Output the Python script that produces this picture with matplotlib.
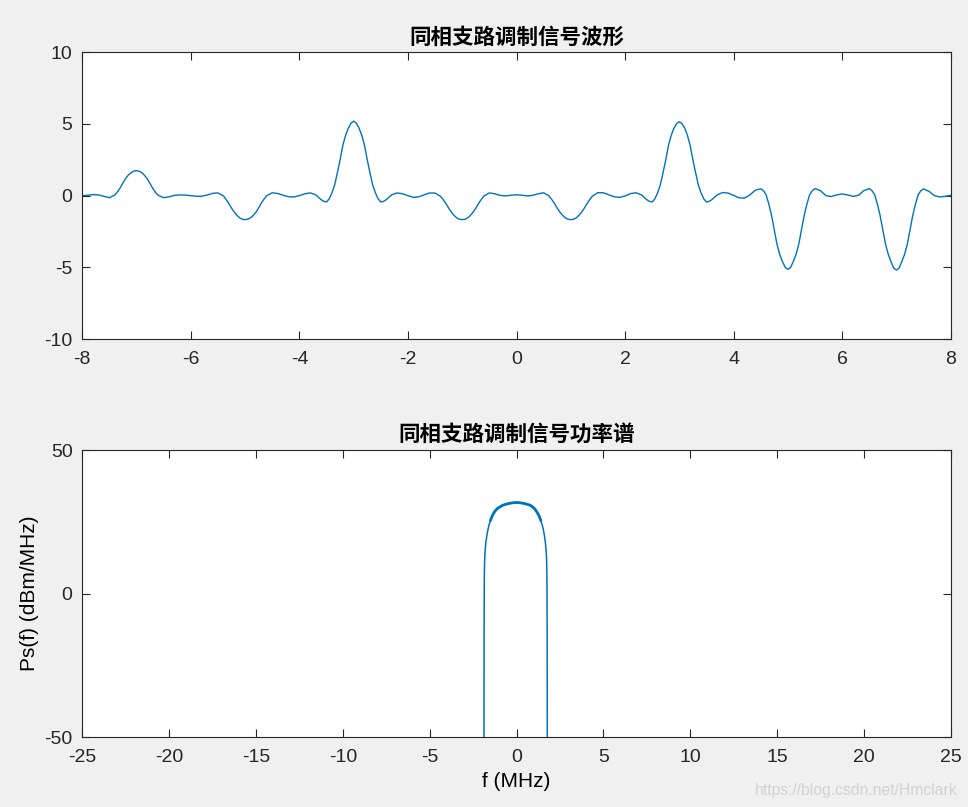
import numpy as np
import matplotlib
matplotlib.use("Agg")
import matplotlib.pyplot as plt

plt.rcParams['font.family'] = ['Liberation Sans', 'Noto Sans CJK SC', 'DejaVu Sans']
plt.rcParams['axes.unicode_minus'] = False

# ---------------- data ----------------
title_top = "同相支路调制信号波形"
title_bot = "同相支路调制信号功率谱"
xlabel_bot = "f (MHz)"
ylabel_bot = "Ps(f) (dBm/MHz)"

# In-phase modulated waveform, read every 0.1 from -8 to 8
t_start, t_end = -8.0, 8.0
i_wave = [
    0.00, 0.03, 0.07, 0.05, -0.05, -0.14, 0.05, 0.55, 1.2, 1.6,
    1.74, 1.6, 1.15, 0.5, 0.02, -0.14, -0.08, 0.02, 0.05, 0.04,
    0.0, -0.04, -0.04, 0.04, 0.16, 0.19, -0.02, -0.55, -1.15, -1.55,
    -1.67, -1.55, -1.15, -0.5, 0.0, 0.2, 0.15, 0.03, -0.08, -0.09,
    0.0, 0.13, 0.19, 0.06, -0.28, -0.44, 0.2, 1.6, 3.5, 4.7,
    5.2, 4.7, 3.5, 1.6, 0.2, -0.44, -0.28, 0.06, 0.19, 0.13,
    0.0, -0.12, -0.08, 0.06, 0.19, 0.18, -0.05, -0.55, -1.15, -1.55,
    -1.67, -1.55, -1.15, -0.55, -0.02, 0.19, 0.13, 0.02, -0.02, 0.03,
    0.06, 0.03, -0.02, 0.02, 0.13, 0.2, -0.02, -0.55, -1.15, -1.55,
    -1.67, -1.55, -1.15, -0.55, -0.03, 0.21, 0.2, 0.06, -0.08, -0.12,
    -0.02, 0.14, 0.2, 0.06, -0.28, -0.44, 0.2, 1.6, 3.5, 4.7,
    5.16, 4.7, 3.5, 1.6, 0.2, -0.44, -0.28, 0.06, 0.22, 0.18,
    0.02, -0.15, -0.17, 0.05, 0.38, 0.48, 0.05, -1.4, -3.4, -4.6,
    -5.14, -4.6, -3.4, -1.4, 0.05, 0.49, 0.35, 0.0, -0.06, 0.05,
    0.12, 0.05, -0.05, 0.02, 0.35, 0.49, 0.05, -1.4, -3.4, -4.6,
    -5.19, -4.6, -3.4, -1.4, 0.05, 0.47, 0.3, 0.0, -0.09, -0.05,
    0.03,
]

# extra readings around the pulses (half steps)
extra_t = [
    -7.35, -7.25, -7.15, -7.05, -6.95, -6.85, -6.75, -6.65,
    -5.35, -5.25, -5.15, -5.05, -4.95, -4.85, -4.75, -4.65,
    -3.55, -3.45, -3.35, -3.25, -3.15, -3.05, -2.95, -2.85, -2.75, -2.65, -2.55, -2.45,
    -1.35, -1.25, -1.15, -1.05, -0.95, -0.85, -0.75, -0.65,
    0.65, 0.75, 0.85, 0.95, 1.05, 1.15, 1.25, 1.35,
    2.45, 2.55, 2.65, 2.75, 2.85, 2.95, 3.05, 3.15, 3.25, 3.35, 3.45, 3.55,
    4.55, 4.65, 4.75, 4.85, 4.95, 5.05, 5.15, 5.25, 5.35, 5.45,
    6.55, 6.65, 6.75, 6.85, 6.95, 7.05, 7.15, 7.25, 7.35, 7.45,
]
extra_v = [
    0.28, 0.9, 1.45, 1.72, 1.7, 1.4, 0.82, 0.22,
    -0.27, -0.87, -1.38, -1.65, -1.64, -1.38, -0.85, -0.23,
    -0.4, -0.22, 0.75, 2.5, 4.2, 5.05, 5.05, 4.2, 2.5, 0.75, -0.22, -0.4,
    -0.27, -0.87, -1.38, -1.65, -1.65, -1.38, -0.87, -0.27,
    -0.27, -0.87, -1.38, -1.65, -1.65, -1.38, -0.87, -0.27,
    -0.4, -0.22, 0.75, 2.5, 4.2, 5.02, 5.02, 4.2, 2.5, 0.75, -0.22, -0.4,
    0.35, -0.6, -2.4, -4.1, -5.0, -5.0, -4.1, -2.4, -0.6, 0.35,
    0.35, -0.6, -2.4, -4.1, -5.05, -5.05, -4.1, -2.4, -0.6, 0.35,
]

# Power spectrum (dBm/MHz)
spec_f = [
    -1.875, -1.87, -1.865, -1.86, -1.855, -1.85, -1.84, -1.82, -1.80, -1.76,
    -1.70, -1.64, -1.58, -1.50, -1.42, -1.34, -1.26, -1.18, -1.10, -1.00,
    -0.80, -0.60, -0.40, -0.20, 0.00, 0.20, 0.40, 0.60, 0.80, 1.00,
    1.08, 1.16, 1.24, 1.32, 1.40, 1.48, 1.54, 1.60, 1.66, 1.70,
    1.72, 1.74, 1.75, 1.755, 1.76, 1.765, 1.77, 1.775,
]
spec_db = [
    -60, -35, -15, -3, 3, 7, 10.5, 13.5, 15.5, 18,
    20.5, 22.5, 24, 25.5, 26.8, 27.8, 28.6, 29.2, 29.7, 30.1,
    30.8, 31.2, 31.5, 31.7, 31.8, 31.7, 31.5, 31.2, 30.8, 29.9,
    29.3, 28.6, 27.8, 26.8, 25.5, 24, 22.5, 20.5, 18, 15.5,
    13.5, 10.5, 7, 3, -3, -15, -35, -60,
]

top_xticks = [-8, -6, -4, -2, 0, 2, 4, 6, 8]
top_yticks = [-10, -5, 0, 5, 10]
bot_xticks = [-25, -20, -15, -10, -5, 0, 5, 10, 15, 20, 25]
bot_yticks = [-50, 0, 50]

# ---------------- plot ----------------
W, H = 968, 807
fig = plt.figure(figsize=(W / 100, H / 100), dpi=100)
fig.patch.set_facecolor('#f0f0f0')

line_c = '#0072BD'
tick_fs = 14
title_fs = 15.5

def style(ax):
    ax.set_facecolor('white')
    for s in ax.spines.values():
        s.set_color('#262626')
        s.set_linewidth(0.8)
    ax.tick_params(direction='in', length=5.8, width=0.8, colors='#262626',
                   top=True, right=True, labelsize=tick_fs, pad=7)
    ax.tick_params(axis='x', pad=9)

ax1 = fig.add_axes([82.3 / W, (H - 339) / H, (950.7 - 82.3) / W, (339 - 52.3) / H])
t_grid = np.linspace(t_start, t_end, len(i_wave))
t_all = np.concatenate([t_grid, np.array(extra_t)])
v_all = np.concatenate([np.array(i_wave), np.array(extra_v)])
order = np.argsort(t_all, kind='stable')
ax1.plot(t_all[order], v_all[order], color=line_c, lw=1.0)
ax1.set_xlim(-8, 8)
ax1.set_ylim(-10, 10)
ax1.set_xticks(top_xticks)
ax1.set_yticks(top_yticks)
style(ax1)
ax1.set_title(title_top, fontsize=title_fs, fontweight='bold', pad=6,
              family=['Noto Sans CJK SC'])

ax2 = fig.add_axes([82.3 / W, (H - 737) / H, (950.7 - 82.3) / W, (737 - 450.3) / H])
ax2.plot(spec_f, spec_db, color=line_c, lw=1.1)
sf = np.array(spec_f)
sd = np.array(spec_db)
m = (sf >= -1.50) & (sf <= 1.40)
ax2.plot(sf[m], sd[m], color=line_c, lw=2.0, solid_capstyle='round')
ax2.set_xlim(-25, 25)
ax2.set_ylim(-50, 50)
ax2.set_xticks(bot_xticks)
ax2.set_yticks(bot_yticks)
style(ax2)
ax2.set_title(title_bot, fontsize=title_fs, fontweight='bold', pad=6,
              family=['Noto Sans CJK SC'])
ax2.set_xlabel(xlabel_bot, fontsize=tick_fs + 1, labelpad=4)
ax2.set_ylabel(ylabel_bot, fontsize=tick_fs + 1, labelpad=4)

fig.text(958 / W, 1 - 790 / H, "https://blog.csdn.net/Hmclark", ha='right', va='center',
         fontsize=11.3, color='#d2d2d2')

fig.savefig('out.png', dpi=100, facecolor=fig.get_facecolor())
